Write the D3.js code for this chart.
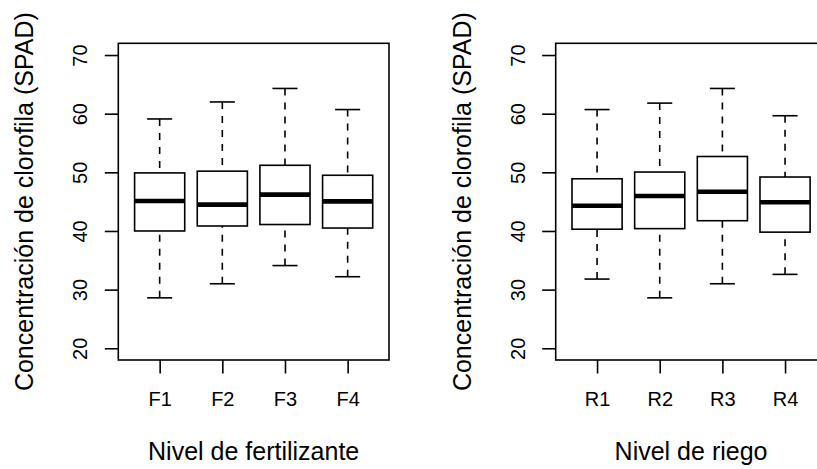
<!DOCTYPE html>
<html>
<head>
<meta charset="utf-8">
<script src="https://cdn.jsdelivr.net/npm/d3@7"></script>
<style>
  html, body { margin: 0; padding: 0; background: #fff; }
  svg { display: block; }
  text { font-family: "Liberation Sans", Arial, Helvetica, sans-serif; fill: #000; }
</style>
</head>
<body>
<svg id="chart" width="817" height="469"></svg>
<script>
// ---- data ----
const fertCategories = ["F1", "F2", "F3", "F4"];
const fertLower  = [28.6, 31.0, 34.1, 32.2];
const fertQ1     = [40.0, 40.85, 41.1, 40.5];
const fertMedian = [45.1, 44.5, 46.2, 45.05];
const fertQ3     = [49.9, 50.2, 51.2, 49.5];
const fertUpper  = [59.1, 62.0, 64.3, 60.7];

const riegoCategories = ["R1", "R2", "R3", "R4"];
const riegoLower  = [31.8, 28.6, 31.0, 32.6];
const riegoQ1     = [40.3, 40.4, 41.75, 39.8];
const riegoMedian = [44.3, 45.96, 46.7, 44.9];
const riegoQ3     = [48.9, 50.05, 52.7, 49.2];
const riegoUpper  = [60.7, 61.8, 64.3, 59.65];

const yTicks = [20, 30, 40, 50, 60, 70];
const yLabel = "Concentración de clorofila (SPAD)";
const fertTitle = "Nivel de fertilizante";
const riegoTitle = "Nivel de riego";

// ---- layout ----
const svg = d3.select("#chart");
const plotTop = 43.3, plotBottom = 360;
const plotW = 270.7;
const tickFont = 20, labFont = 25;

function panel(left, cats, lo, q1, med, q3, hi, xtitle) {
  const right = left + plotW;
  const x = d3.scaleLinear().domain([0.34, 4.66]).range([left, right]);
  const y = d3.scaleLinear().domain([18, 72]).range([plotBottom, plotTop]);
  const g = svg.append("g");
  const unit = x(1) - x(0);
  const boxHalf = 0.4 * unit, capHalf = 0.2 * unit;

  const data = cats.map((c, i) => ({c, i: i + 1, lo: lo[i], q1: q1[i], med: med[i], q3: q3[i], hi: hi[i]}));
  const b = g.selectAll("g.box").data(data).enter().append("g").attr("class", "box");

  // whiskers (dashed)
  b.append("line").attr("x1", d => x(d.i)).attr("x2", d => x(d.i))
    .attr("y1", d => y(d.hi)).attr("y2", d => y(d.q3))
    .attr("stroke", "#000").attr("stroke-width", 1.6).attr("stroke-dasharray", "7,7");
  b.append("line").attr("x1", d => x(d.i)).attr("x2", d => x(d.i))
    .attr("y1", d => y(d.lo)).attr("y2", d => y(d.q1))
    .attr("stroke", "#000").attr("stroke-width", 1.6).attr("stroke-dasharray", "7,7");
  // caps
  b.append("line").attr("x1", d => x(d.i) - capHalf).attr("x2", d => x(d.i) + capHalf)
    .attr("y1", d => y(d.hi)).attr("y2", d => y(d.hi))
    .attr("stroke", "#000").attr("stroke-width", 1.6);
  b.append("line").attr("x1", d => x(d.i) - capHalf).attr("x2", d => x(d.i) + capHalf)
    .attr("y1", d => y(d.lo)).attr("y2", d => y(d.lo))
    .attr("stroke", "#000").attr("stroke-width", 1.6);
  // box
  b.append("rect").attr("x", d => x(d.i) - boxHalf).attr("width", 2 * boxHalf)
    .attr("y", d => y(d.q3)).attr("height", d => y(d.q1) - y(d.q3))
    .attr("fill", "#fff").attr("stroke", "#000").attr("stroke-width", 1.6);
  // median
  b.append("line").attr("x1", d => x(d.i) - boxHalf).attr("x2", d => x(d.i) + boxHalf)
    .attr("y1", d => y(d.med)).attr("y2", d => y(d.med))
    .attr("stroke", "#000").attr("stroke-width", 4.6);

  // frame
  g.append("rect").attr("x", left).attr("y", plotTop).attr("width", plotW).attr("height", plotBottom - plotTop)
    .attr("fill", "none").attr("stroke", "#000").attr("stroke-width", 1.6);

  // y axis
  const ya = g.append("g").attr("transform", `translate(${left},0)`)
    .call(d3.axisLeft(y).tickValues(yTicks).tickSize(13.5).tickSizeOuter(0));
  ya.select(".domain").remove();
  ya.selectAll(".tick line").attr("stroke", "#000").attr("stroke-width", 1.6);
  ya.selectAll(".tick text")
    .attr("x", null).attr("dy", null)
    .attr("transform", "translate(-31,0) rotate(-90)")
    .attr("text-anchor", "middle")
    .style("font-size", tickFont + "px")
    .style("font-family", '"Liberation Sans", Arial, sans-serif')
    .attr("fill", "#000");

  // x axis
  const xa = g.append("g").attr("transform", `translate(0,${plotBottom})`)
    .call(d3.axisBottom(x).tickValues([1, 2, 3, 4]).tickFormat((d, i) => cats[i]).tickSize(13.5).tickSizeOuter(0));
  xa.select(".domain").remove();
  xa.selectAll(".tick line").attr("stroke", "#000").attr("stroke-width", 1.6);
  xa.selectAll(".tick text")
    .attr("y", 46).attr("dy", null)
    .style("font-size", tickFont + "px")
    .style("font-family", '"Liberation Sans", Arial, sans-serif')
    .attr("fill", "#000");

  // titles
  g.append("text").attr("x", (left + right) / 2).attr("y", 460)
    .attr("text-anchor", "middle").style("font-size", labFont + "px").text(xtitle);
  g.append("text")
    .attr("transform", `translate(${left - 85},${(plotTop + plotBottom) / 2}) rotate(-90)`)
    .attr("text-anchor", "middle").style("font-size", labFont + "px").text(yLabel);
}

panel(118.3, fertCategories, fertLower, fertQ1, fertMedian, fertQ3, fertUpper, fertTitle);
panel(555.7, riegoCategories, riegoLower, riegoQ1, riegoMedian, riegoQ3, riegoUpper, riegoTitle);
</script>
</body>
</html>
